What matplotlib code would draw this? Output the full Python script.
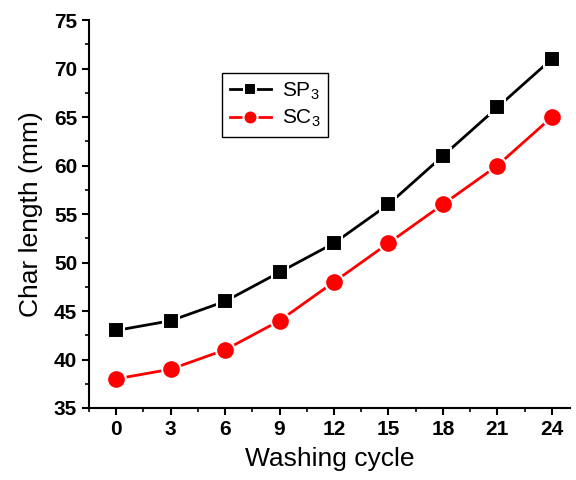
import matplotlib
matplotlib.use("Agg")
import matplotlib.pyplot as plt
from matplotlib.ticker import MultipleLocator

plt.rcParams['font.family'] = ['Liberation Sans', 'DejaVu Sans']
plt.rcParams['mathtext.default'] = 'regular'

# data
cycles = [0, 3, 6, 9, 12, 15, 18, 21, 24]
sp3 = [43, 44, 46, 49, 52, 56, 61, 66, 71]
sc3 = [38, 39, 41, 44, 48, 52, 56, 60, 65]

fig = plt.figure(figsize=(5.76, 4.8), dpi=100)
ax = fig.add_axes([0.1545, 0.15, 0.835, 0.808])

ax.plot(cycles, sp3, '-s', color='black', lw=2, markersize=12,
        markeredgecolor='white', markeredgewidth=1.5, label='SP$_3$')
ax.plot(cycles, sc3, '-o', color='red', lw=2, markersize=13.5,
        markeredgecolor='white', markeredgewidth=1.5, label='SC$_3$')

ax.set_xlim(-1.5, 25)
ax.set_ylim(35, 75)
ax.xaxis.set_major_locator(MultipleLocator(3))
ax.xaxis.set_minor_locator(MultipleLocator(1.5))
ax.yaxis.set_major_locator(MultipleLocator(5))
ax.yaxis.set_minor_locator(MultipleLocator(2.5))

for s in ['top', 'right']:
    ax.spines[s].set_visible(False)
for s in ['left', 'bottom']:
    ax.spines[s].set_linewidth(1.5)

ax.tick_params(which='major', direction='out', length=5, width=1.5, labelsize=15)
ax.tick_params(which='minor', direction='out', length=3, width=1.2)
for lab in ax.get_xticklabels() + ax.get_yticklabels():
    lab.set_fontweight('bold')

ax.set_xlabel('Washing cycle', fontsize=19, labelpad=6)
ax.set_ylabel('Char length (mm)', fontsize=19, labelpad=8)

leg = ax.legend(loc='upper left', bbox_to_anchor=(0.277, 0.863), fontsize=15,
                fancybox=False, edgecolor='black', framealpha=1,
                handlelength=2.0, borderpad=0.35, labelspacing=0.3,
                borderaxespad=0, markerscale=0.75, handletextpad=0.5)
leg.get_frame().set_linewidth(1.0)

fig.savefig('out.png', dpi=100)
